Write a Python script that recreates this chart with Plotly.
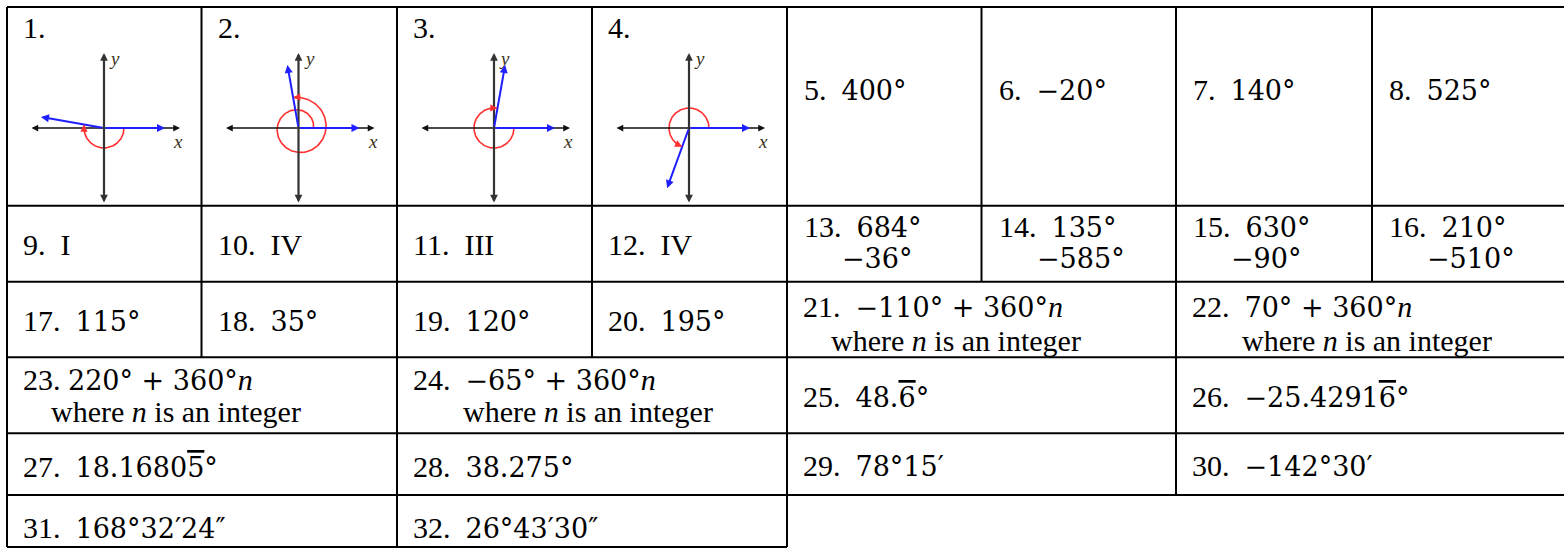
import numpy as np
import plotly.graph_objects as go

# answers shown in the key
DIAGRAM_ANGLES = [-190, 460, -280, 250]          # items 1-4 (drawn)
PLOT_ANSWERS = ["400°", "−20°", "140°", "525°"]  # items 5-8
QUADRANTS = ["I", "IV", "III", "IV"]             # items 9-12
POS_COTERMINAL = ["684°", "135°", "630°", "210°"]    # items 13-16
NEG_COTERMINAL = ["−36°", "−585°", "−90°", "−510°"]
REFERENCE_ANGLES = ["115°", "35°", "120°", "195°"]   # items 17-20
GENERAL_COTERMINAL = ["−110°", "70°", "220°", "−65°"]  # items 21-24
DECIMAL_DEGREES = ["48.6\u0305°", "−25.42916\u0305°", "18.16805\u0305°", "38.275°"]  # 25-28
DMS_ANGLES = ["78°15′", "−142°30′", "168°32′24″", "26°43′30″"]  # 29-32

W, H = 1564, 550
COLS = [7, 201.5, 397, 592, 787, 981.5, 1176, 1372, 1567]
ROWS = [7, 205.7, 281.7, 357.3, 433.3, 495, 547]
TXT = "Liberation Serif"
MATH = "DejaVu Serif"


def m(s, extra=""):
    if not s:
        return ""
    return f'<span style="font-family:{MATH};font-size:27px{extra}">{s}</span>'


def m_bar(s):
    # repeating digit (marked with a combining overline) drawn with a bar above it
    if "\u0305" not in s:
        return m(s)
    i = s.index("\u0305")
    return m(s[:i - 1]) + m(s[i - 1], ";text-decoration:overline") + m(s[i + 1:])


fig = go.Figure()
shapes = []
ann = []


def hline(y, x0, x1):
    shapes.append(dict(type="line", xref="x", yref="y", x0=x0, x1=x1, y0=y, y1=y,
                       line=dict(color="black", width=2)))


def vline(x, y0, y1):
    shapes.append(dict(type="line", xref="x", yref="y", x0=x, x1=x, y0=y0, y1=y1,
                       line=dict(color="black", width=2)))


def label(x, y, text, size=30):
    ann.append(dict(x=x, y=y, xref="x", yref="y", text=text, showarrow=False,
                    xanchor="left", yanchor="middle",
                    font=dict(family=TXT, size=size, color="black")))


def arrow(x0, y0, x1, y1, color, width=1.5, both=False, size=1.0):
    ann.append(dict(x=x1, y=y1, ax=x0, ay=y0, xref="x", yref="y", axref="x", ayref="y",
                    text="", showarrow=True, arrowhead=2, arrowsize=size,
                    arrowwidth=width, arrowcolor=color,
                    arrowside="end+start" if both else "end", standoff=0, startstandoff=0))


# grid
for y in ROWS[:6]:
    hline(y, COLS[0], COLS[-1])
hline(ROWS[6], COLS[0], COLS[4])
for x in (COLS[0], COLS[2], COLS[4]):
    vline(x, ROWS[0], ROWS[6])
for x in (COLS[1], COLS[3]):
    vline(x, ROWS[0], ROWS[3])
for x in (COLS[5], COLS[7]):
    vline(x, ROWS[0], ROWS[2])
vline(COLS[6], ROWS[0], ROWS[5])

# items 1-4: angle sketches
for k, ang in enumerate(DIAGRAM_ANGLES):
    xl = COLS[k]
    ox, oy = xl + 97, 128
    label(xl + 14, 27, f"{k + 1}.")
    arrow(ox - 74, oy, ox + 76, oy, "#111", 1.5, both=True, size=0.9)
    arrow(ox, 204, ox, 53, "#333", 2.2, both=True, size=0.7)
    ann.append(dict(x=ox + 3, y=58, xref="x", yref="y", text="<i>y</i>", showarrow=False,
                    xanchor="left", yanchor="middle", font=dict(family=TXT, size=19, color="#3a3020")))
    ann.append(dict(x=ox + 74, y=141, xref="x", yref="y", text="<i>x</i>", showarrow=False,
                    xanchor="center", yanchor="middle", font=dict(family=TXT, size=19, color="#3a3020")))
    # initial and terminal sides
    arrow(ox, oy, ox + 61, oy, "#1f1fff", 2, size=0.8)
    th = np.radians(ang)
    arrow(ox, oy, ox + 64 * np.cos(th), oy - 64 * np.sin(th), "#1f1fff", 2, size=0.8)
    # rotation arc
    r0, r1 = (20, 20) if abs(ang) < 360 else (15, 31)
    t = np.linspace(0, ang, 200)
    r = r0 + (r1 - r0) * np.abs(t) / abs(ang)
    ax_ = ox + r * np.cos(np.radians(t))
    ay_ = oy - r * np.sin(np.radians(t))
    fig.add_trace(go.Scatter(x=ax_, y=ay_, mode="lines", line=dict(color="#ff3030", width=1.6),
                             hoverinfo="skip"))
    back = np.radians(ang - np.sign(ang) * 14)
    arrow(ox + r1 * np.cos(back), oy - r1 * np.sin(back), ax_[-1], ay_[-1], "#ff3030", 1.6, size=0.9)

# items 5-8
for k, v in enumerate(PLOT_ANSWERS):
    label(COLS[4 + k] + 15, 89, f"{k + 5}.\u00a0\u00a0" + m(v))

# items 9-12 and 13-16
for k, q in enumerate(QUADRANTS):
    label(COLS[k] + 14, 244, f"{k + 9}.\u00a0\u00a0{q}")
for k, (p, n) in enumerate(zip(POS_COTERMINAL, NEG_COTERMINAL)):
    label(COLS[4 + k] + 15, 226, f"{k + 13}.\u00a0\u00a0" + m(p))
    label(COLS[4 + k] + 53, 258, m(n))

# items 17-20
for k, v in enumerate(REFERENCE_ANGLES):
    label(COLS[k] + 14, 320, f"{k + 17}.\u00a0\u00a0" + m(v))

# items 21-24
where = "where <i>n</i> is an integer"
for k, v in enumerate(GENERAL_COTERMINAL):
    num = k + 21
    if num < 23:
        xl, y1, y2 = COLS[4 + 2 * k], 306, 340
    else:
        xl, y1, y2 = COLS[2 * (k - 2)], 379, 411
    sep = "\u00a0" if num == 23 else "\u00a0\u00a0"
    label(xl + 14, y1, f"{num}.{sep}" + m(f"{v} + 360°") + "<i>n</i>")
    label(xl + (42 if num % 2 else 64), y2, where)

# items 25-28 and 29-32
dec_cells = [(COLS[4], 396), (COLS[6], 396), (COLS[0], 466), (COLS[2], 466)]
for k, v in enumerate(DECIMAL_DEGREES):
    xl, y = dec_cells[k]
    label(xl + 14, y, f"{k + 25}.\u00a0\u00a0" + m_bar(v))
dms_cells = [(COLS[4], 465), (COLS[6], 465), (COLS[0], 527), (COLS[2], 527)]
for k, v in enumerate(DMS_ANGLES):
    xl, y = dms_cells[k]
    label(xl + 14, y, f"{k + 29}.\u00a0\u00a0" + m(v))

fig.update_layout(
    width=W, height=H, autosize=False,
    margin=dict(l=0, r=0, t=0, b=0),
    paper_bgcolor="white", plot_bgcolor="white",
    showlegend=False,
    xaxis=dict(range=[0, W], visible=False, fixedrange=True),
    yaxis=dict(range=[H, 0], visible=False, fixedrange=True),
    shapes=shapes,
    annotations=ann,
)

fig.write_html("out.html", config={"displayModeBar": False},
               post_script="document.body.style.margin='0';document.body.style.overflow='hidden';")
